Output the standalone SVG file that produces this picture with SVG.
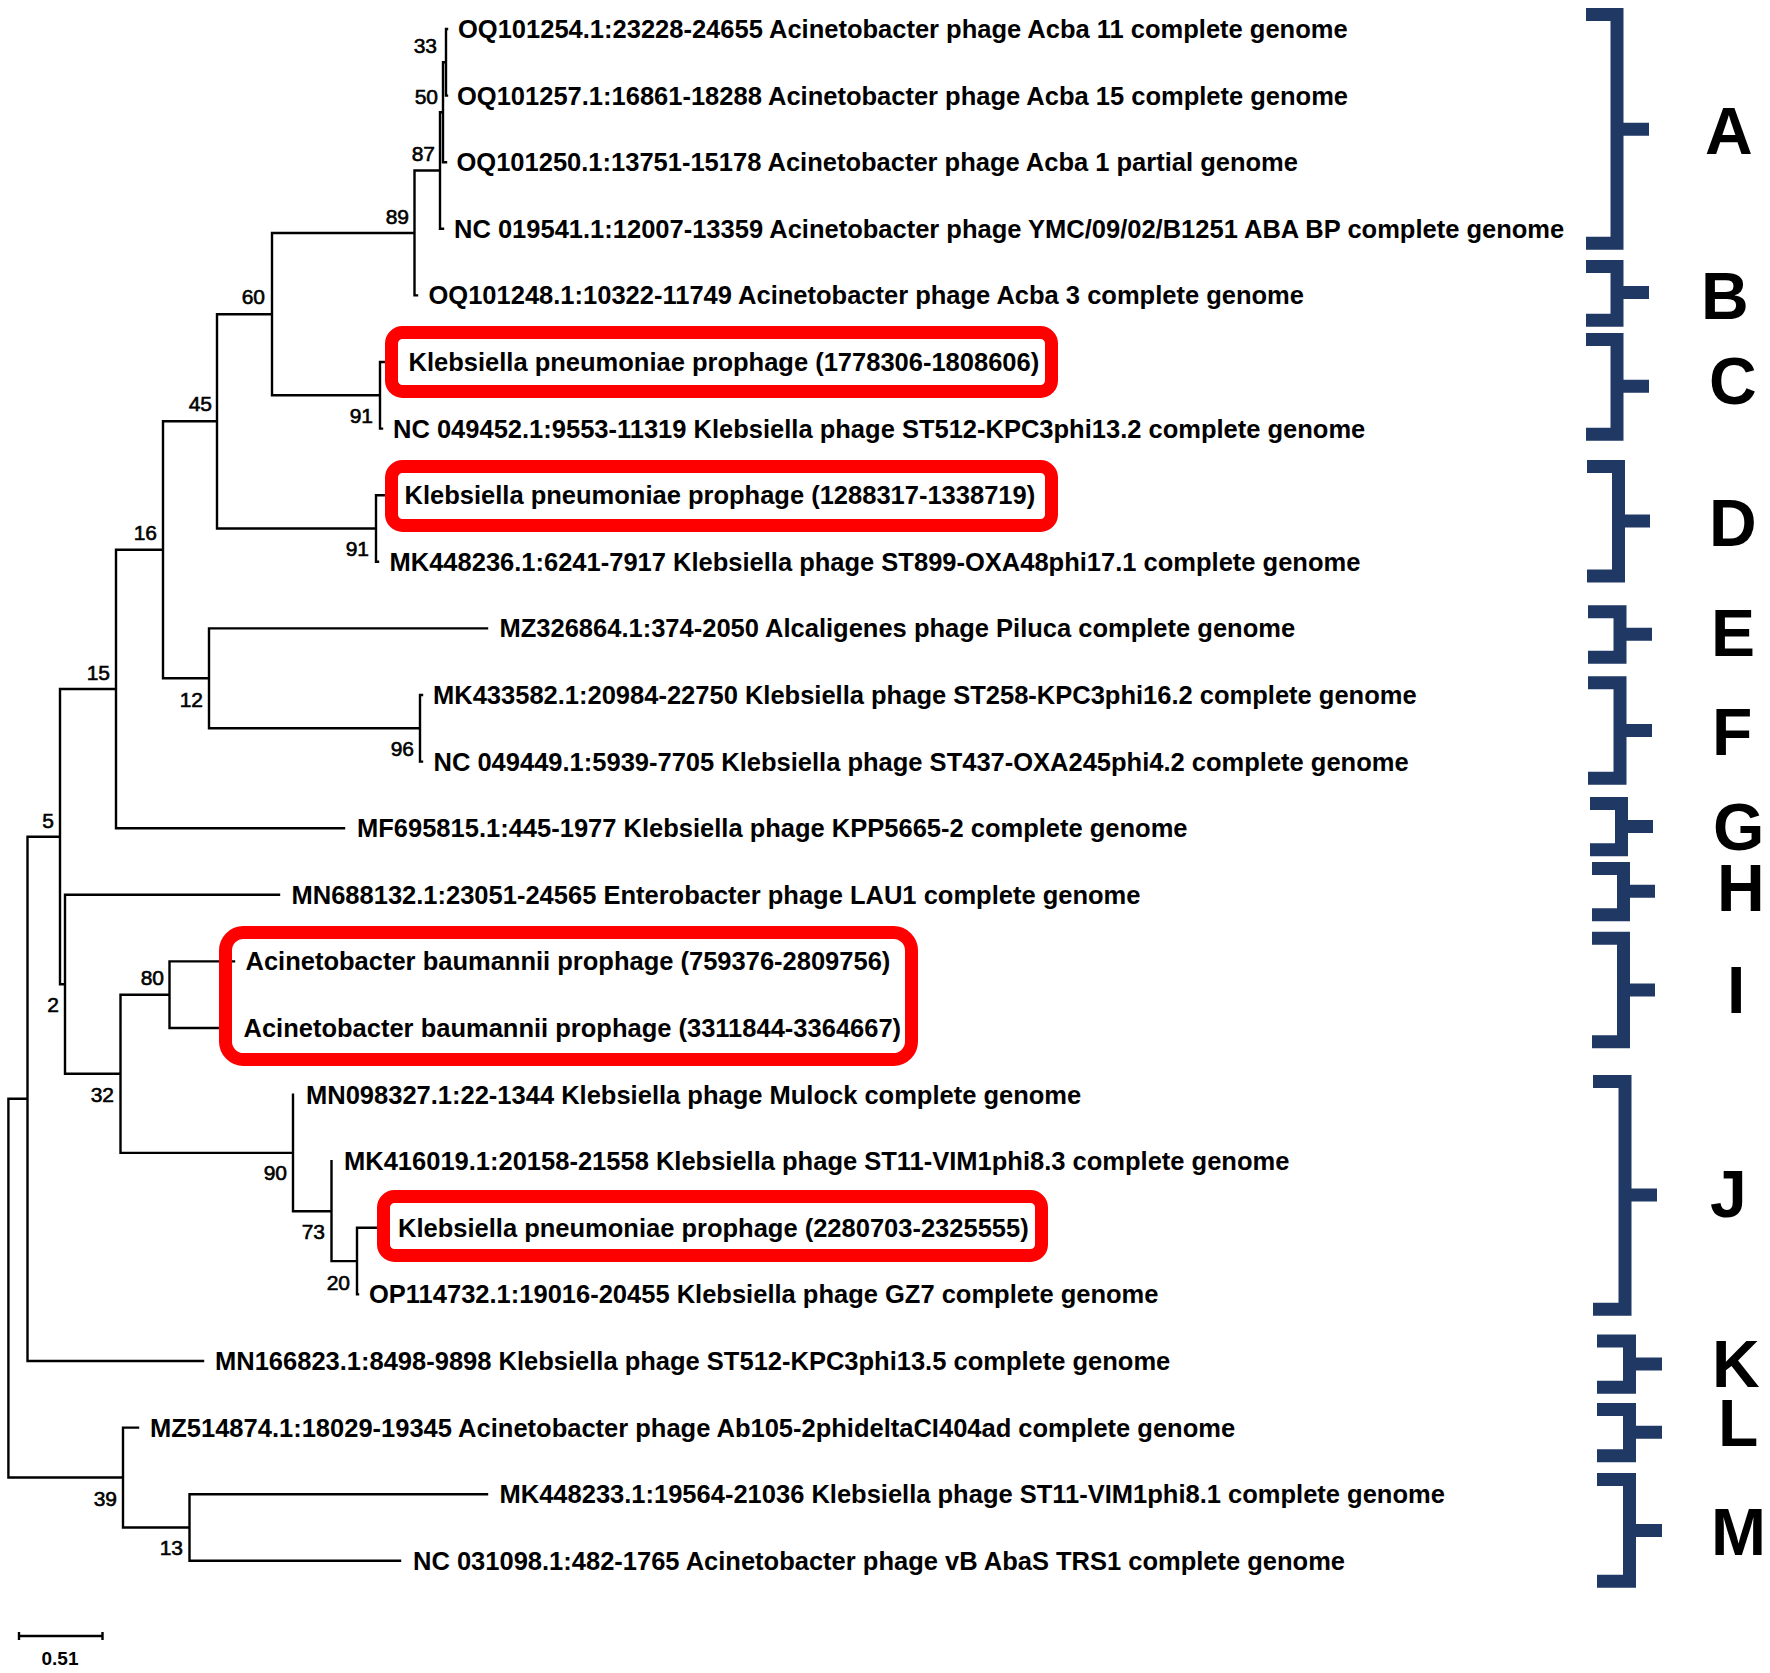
<svg xmlns="http://www.w3.org/2000/svg" width="1770" height="1673" viewBox="0 0 1770 1673">
<style>
.leaf{font-family:"Liberation Sans",Arial,sans-serif;font-weight:bold;font-size:25.5px;fill:#000}
.bs{font-family:"Liberation Sans",Arial,sans-serif;font-size:21px;fill:#000;stroke:#000;stroke-width:0.6;text-anchor:end}
.clade{font-family:"Liberation Sans",Arial,sans-serif;font-weight:bold;font-size:66px;fill:#000}
.br{fill:none;stroke:#000;stroke-width:2.4;stroke-linecap:square}
.box{fill:none;stroke:#ff0000;stroke-width:13}
.brk{fill:none;stroke:#1f3864;stroke-width:13;stroke-linejoin:miter}
</style>
<rect width="1770" height="1673" fill="#fff"/>
<g id="connectors">
<path class="br" d="M446 29V95.6 M446 29H447 M446 95.6H447
M443 62.3V162.2 M443 62.3H446 M443 162.2H446
M440 112.3V228.8 M440 112.3H443 M440 228.8H443
M414.5 170.5V295.4 M414.5 170.5H440 M414.5 295.4H417
M272 233V395.3 M272 233H414.5 M272 395.3H380
M380 362V428.6 M380 362H392 M380 428.6H382
M217 314.2V528.5 M217 314.2H272 M217 528.5H376
M376 495.2V561.8 M376 495.2H392 M376 561.8H378
M163 421.3V678.3 M163 421.3H217 M163 678.3H209
M209 628.4V728.3 M209 628.4H487 M209 728.3H420
M420 695V761.6 M420 695H422 M420 761.6H422
M116 549.8V828.2 M116 549.8H163 M116 828.2H344
M60 689V984.3 M60 689H116 M60 984.3H65
M65 894.8V1073.8 M65 894.8H279 M65 1073.8H120.5
M120.5 994.7V1152.9 M120.5 994.7H169.5 M120.5 1152.9H293
M169.5 961.4V1028 M169.5 961.4H234 M169.5 1028H225
M293 1094.6V1211.2 M293 1211.2H331.5
M331.5 1161.2V1261.1 M331.5 1261.1H357
M357 1227.8V1294.4 M357 1227.8H384 M357 1294.4H358
M27.5 836.7V1361 M27.5 836.7H60 M27.5 1361H203
M123 1427.6V1527.5 M123 1427.6H138 M123 1527.5H189.5
M189.5 1494.2V1560.8 M189.5 1494.2H487 M189.5 1560.8H400
M8.4 1098.8V1477.5 M8.4 1098.8H27.5 M8.4 1477.5H123"/>
</g>
<g id="highlights">
<rect class="box" x="391.5" y="332.5" width="660" height="59" rx="11"/>
<rect class="box" x="391.5" y="466.5" width="660" height="59" rx="11"/>
<rect class="box" x="225.5" y="932.5" width="686" height="127" rx="18"/>
<rect class="box" x="383.5" y="1196.5" width="658" height="59" rx="11"/>
</g>
<g id="leaves">
<g id="leaf0"><text class="leaf" x="458" y="38">OQ101254.1:23228-24655 Acinetobacter phage Acba 11 complete genome</text></g>
<g id="leaf1"><text class="leaf" x="457" y="104.6">OQ101257.1:16861-18288 Acinetobacter phage Acba 15 complete genome</text></g>
<g id="leaf2"><text class="leaf" x="456.5" y="171.2">OQ101250.1:13751-15178 Acinetobacter phage Acba 1 partial genome</text></g>
<g id="leaf3"><text class="leaf" x="454" y="237.8">NC 019541.1:12007-13359 Acinetobacter phage YMC/09/02/B1251 ABA BP complete genome</text></g>
<g id="leaf4"><text class="leaf" x="428.5" y="304.4">OQ101248.1:10322-11749 Acinetobacter phage Acba 3 complete genome</text></g>
<g id="leaf5"><text class="leaf" x="408.5" y="371">Klebsiella pneumoniae prophage (1778306-1808606)</text></g>
<g id="leaf6"><text class="leaf" x="393" y="437.6">NC 049452.1:9553-11319 Klebsiella phage ST512-KPC3phi13.2 complete genome</text></g>
<g id="leaf7"><text class="leaf" x="404.5" y="504.2">Klebsiella pneumoniae prophage (1288317-1338719)</text></g>
<g id="leaf8"><text class="leaf" x="389.5" y="570.8">MK448236.1:6241-7917 Klebsiella phage ST899-OXA48phi17.1 complete genome</text></g>
<g id="leaf9"><text class="leaf" x="499.5" y="637.4">MZ326864.1:374-2050 Alcaligenes phage Piluca complete genome</text></g>
<g id="leaf10"><text class="leaf" x="433" y="704">MK433582.1:20984-22750 Klebsiella phage ST258-KPC3phi16.2 complete genome</text></g>
<g id="leaf11"><text class="leaf" x="433.5" y="770.6">NC 049449.1:5939-7705 Klebsiella phage ST437-OXA245phi4.2 complete genome</text></g>
<g id="leaf12"><text class="leaf" x="357" y="837.2">MF695815.1:445-1977 Klebsiella phage KPP5665-2 complete genome</text></g>
<g id="leaf13"><text class="leaf" x="291.5" y="903.8">MN688132.1:23051-24565 Enterobacter phage LAU1 complete genome</text></g>
<g id="leaf14"><text class="leaf" x="245.5" y="970.4">Acinetobacter baumannii prophage (759376-2809756)</text></g>
<g id="leaf15"><text class="leaf" x="243.5" y="1037">Acinetobacter baumannii prophage (3311844-3364667)</text></g>
<g id="leaf16"><text class="leaf" x="306" y="1103.6">MN098327.1:22-1344 Klebsiella phage Mulock complete genome</text></g>
<g id="leaf17"><text class="leaf" x="344" y="1170.2">MK416019.1:20158-21558 Klebsiella phage ST11-VIM1phi8.3 complete genome</text></g>
<g id="leaf18"><text class="leaf" x="398" y="1236.8">Klebsiella pneumoniae prophage (2280703-2325555)</text></g>
<g id="leaf19"><text class="leaf" x="369" y="1303.4">OP114732.1:19016-20455 Klebsiella phage GZ7 complete genome</text></g>
<g id="leaf20"><text class="leaf" x="215" y="1370">MN166823.1:8498-9898 Klebsiella phage ST512-KPC3phi13.5 complete genome</text></g>
<g id="leaf21"><text class="leaf" x="150" y="1436.6">MZ514874.1:18029-19345 Acinetobacter phage Ab105-2phideltaCI404ad complete genome</text></g>
<g id="leaf22"><text class="leaf" x="499.5" y="1503.2">MK448233.1:19564-21036 Klebsiella phage ST11-VIM1phi8.1 complete genome</text></g>
<g id="leaf23"><text class="leaf" x="413" y="1569.8">NC 031098.1:482-1765 Acinetobacter phage vB AbaS TRS1 complete genome</text></g>
</g>
<g id="bootstrap">
<text class="bs" x="437" y="53">33</text>
<text class="bs" x="438" y="104">50</text>
<text class="bs" x="435" y="161">87</text>
<text class="bs" x="409" y="224">89</text>
<text class="bs" x="265" y="304">60</text>
<text class="bs" x="212" y="411">45</text>
<text class="bs" x="373" y="423">91</text>
<text class="bs" x="157" y="540">16</text>
<text class="bs" x="369" y="556">91</text>
<text class="bs" x="110" y="680">15</text>
<text class="bs" x="203" y="707">12</text>
<text class="bs" x="414" y="756">96</text>
<text class="bs" x="54" y="828">5</text>
<text class="bs" x="164" y="985">80</text>
<text class="bs" x="59" y="1012">2</text>
<text class="bs" x="114" y="1102">32</text>
<text class="bs" x="287" y="1180">90</text>
<text class="bs" x="325" y="1239">73</text>
<text class="bs" x="350" y="1290">20</text>
<text class="bs" x="117" y="1506">39</text>
<text class="bs" x="183" y="1555">13</text>
</g>
<g id="scalebar">
<path d="M19 1636H102.5 M19 1632V1640 M102.5 1632V1640" fill="none" stroke="#000" stroke-width="2.4"/>
<text x="60" y="1665" font-family="Liberation Sans, Arial, sans-serif" font-weight="bold" font-size="19" text-anchor="middle">0.51</text>
</g>
<g id="clades">
<g id="cladeA"><path class="brk" d="M1586 14.6H1617V243.2H1586 M1617 129.3H1649"/><text class="clade" x="1705" y="153.6">A</text></g>
<g id="cladeB"><path class="brk" d="M1586 266.4H1617V320.2H1586 M1617 292.5H1649"/><text class="clade" x="1701" y="319">B</text></g>
<g id="cladeC"><path class="brk" d="M1586 339.5H1617V434.3H1586 M1617 386.3H1649"/><text class="clade" x="1709" y="404">C</text></g>
<g id="cladeD"><path class="brk" d="M1587 466.4H1618.5V576H1587 M1618.5 521.1H1650"/><text class="clade" x="1709" y="546">D</text></g>
<g id="cladeE"><path class="brk" d="M1588 611.8H1620V657.3H1588 M1620 634.3H1652"/><text class="clade" x="1711" y="655.7">E</text></g>
<g id="cladeF"><path class="brk" d="M1588 682.7H1620V778.2H1588 M1620 730.5H1652"/><text class="clade" x="1712" y="754.6">F</text></g>
<g id="cladeG"><path class="brk" d="M1590 803.4H1621.5V849.8H1590 M1621.5 826.4H1653"/><text class="clade" x="1713" y="850">G</text></g>
<g id="cladeH"><path class="brk" d="M1592 868.4H1623.5V914.8H1592 M1623.5 891.3H1655"/><text class="clade" x="1717" y="911">H</text></g>
<g id="cladeI"><path class="brk" d="M1592 938.2H1623.5V1041.8H1592 M1623.5 990H1655"/><text class="clade" x="1727" y="1012.9">I</text></g>
<g id="cladeJ"><path class="brk" d="M1593 1081.4H1625V1309.3H1593 M1625 1195H1657"/><text class="clade" x="1710" y="1217">J</text></g>
<g id="cladeK"><path class="brk" d="M1597 1340.9H1629.5V1387.3H1597 M1629.5 1364H1662"/><text class="clade" x="1712" y="1386.9">K</text></g>
<g id="cladeL"><path class="brk" d="M1597 1409.6H1629.5V1455.8H1597 M1629.5 1432.2H1662"/><text class="clade" x="1718" y="1446.1">L</text></g>
<g id="cladeM"><path class="brk" d="M1597 1479.6H1629.5V1581.2H1597 M1629.5 1530.4H1662"/><text class="clade" x="1711" y="1555">M</text></g>
</g>
</svg>
